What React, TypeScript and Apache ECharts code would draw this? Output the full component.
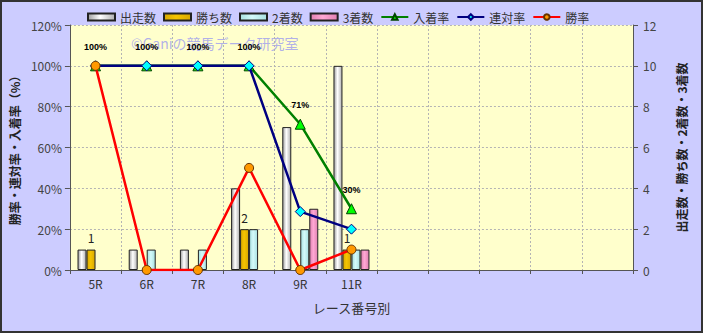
import React, { useEffect, useRef } from "react";
import * as echarts from "echarts";

const categories = ["5R", "6R", "7R", "8R", "9R", "11R", "", "", "", "", ""];
const starts = [1, 1, 1, 4, 7, 10];
const wins = [1, 0, 0, 2, 0, 1];
const seconds = [0, 1, 1, 2, 2, 1];
const thirds = [0, 0, 0, 0, 3, 1];
const placeRate = [100, 100, 100, 100, 71.4, 30];
const quinellaRate = [100, 100, 100, 100, 28.6, 20];
const winRate = [100, 0, 0, 50, 0, 10];
const rateTicks = [0, 20, 40, 60, 80, 100, 120];
const countTicks = [0, 2, 4, 6, 8, 10, 12];

const FONT = "'Noto Sans CJK JP', 'Noto Sans', sans-serif";

function grad(a: string, b: string, c: string) {
  return new echarts.graphic.LinearGradient(0, 0, 1, 0, [
    { offset: 0, color: a },
    { offset: 0.45, color: b },
    { offset: 1, color: c },
  ]);
}

// zero-height bars in the reference are invisible (no outline)
function barData(values: number[]) {
  return values.map((v) =>
    v === 0 ? { value: 0, itemStyle: { borderWidth: 0, opacity: 0 } } : v
  );
}

export default function App() {
  const ref = useRef<HTMLDivElement>(null);
  useEffect(() => {
    if (!ref.current) return;
    const chart = echarts.init(ref.current, null, { renderer: "svg" });
    const barBase = {
      type: "bar" as const,
      yAxisIndex: 1,
      barWidth: 9,
      barGap: "0%",
    };
    const gridLine = { color: "#B4B4B4", type: [2, 2] as number[], width: 1 };
    chart.setOption({
      animation: false,
      backgroundColor: "#CCCCFF",
      textStyle: { fontFamily: FONT },
      legend: {
        left: 82,
        top: 6,
        itemWidth: 27,
        itemHeight: 7,
        itemGap: 7,
        textStyle: { fontSize: 12, color: "#333", fontFamily: FONT },
        data: [
          { name: "出走数", icon: "rect" },
          { name: "勝ち数", icon: "rect" },
          { name: "2着数", icon: "rect" },
          { name: "3着数", icon: "rect" },
          "入着率",
          "連対率",
          "勝率",
        ],
      },
      grid: {
        left: 67,
        right: 70,
        top: 25,
        bottom: 63,
        show: true,
        backgroundColor: "#FFFFCC",
        borderWidth: 0,
      },
      graphic: [
        {
          type: "text",
          left: 131,
          top: 36,
          silent: true,
          z: 0,
          style: {
            text: "©Ganiの競馬データ研究室",
            fontSize: 14,
            fontFamily: FONT,
            fill: "rgba(110,110,255,0.55)",
          },
        },
        {
          type: "rect",
          shape: { x: 1, y: 1, width: 701, height: 331 },
          silent: true,
          style: { fill: "none", stroke: "#333", lineWidth: 2 },
        },
      ],
      xAxis: {
        type: "category",
        data: categories,
        name: "レース番号別",
        nameLocation: "middle",
        nameGap: 31,
        nameTextStyle: { fontSize: 13, color: "#333", fontFamily: FONT },
        axisLine: { lineStyle: { color: "#555", width: 1 } },
        axisTick: { show: true, length: 4, lineStyle: { color: "#555" } },
        axisLabel: { fontSize: 12, color: "#333", margin: 7 },
        splitLine: { show: true, lineStyle: gridLine },
      },
      yAxis: [
        {
          type: "value",
          min: rateTicks[0],
          max: rateTicks[rateTicks.length - 1],
          interval: 20,
          name: "勝率・連対率・入着率（%）",
          nameLocation: "middle",
          nameRotate: 90,
          nameGap: 45,
          nameTextStyle: {
            fontSize: 12,
            fontWeight: "bold",
            color: "#222",
            fontFamily: FONT,
          },
          axisLine: { show: true, lineStyle: { color: "#555" } },
          axisTick: { show: true, length: 5, lineStyle: { color: "#555" } },
          axisLabel: {
            fontSize: 12,
            color: "#444",
            margin: 8,
            formatter: (v: number) => `${v}%`,
          },
          splitLine: { show: true, lineStyle: gridLine },
        },
        {
          type: "value",
          min: countTicks[0],
          max: countTicks[countTicks.length - 1],
          interval: 2,
          position: "right",
          name: "出走数・勝ち数・2着数・3着数",
          nameLocation: "middle",
          nameRotate: 90,
          nameGap: 42,
          nameTextStyle: {
            fontSize: 12,
            fontWeight: "bold",
            color: "#222",
            fontFamily: FONT,
          },
          axisLine: { show: true, lineStyle: { color: "#555" } },
          axisTick: { show: true, length: 5, lineStyle: { color: "#555" } },
          axisLabel: { fontSize: 12, color: "#444", margin: 10 },
          splitLine: { show: false },
        },
      ],
      series: [
        {
          ...barBase,
          name: "出走数",
          data: barData(starts),
          itemStyle: {
            color: grad("#A0A0A0", "#FFFFFF", "#B0B0B0"),
            borderColor: "#222",
            borderWidth: 1,
          },
        },
        {
          ...barBase,
          name: "勝ち数",
          data: barData(wins),
          itemStyle: {
            color: grad("#D8A800", "#F5C400", "#D8A800"),
            borderColor: "#222",
            borderWidth: 1,
          },
          label: {
            show: true,
            position: "top",
            distance: 6,
            fontSize: 12,
            color: "#222",
            formatter: (p: any) => (p.value ? String(p.value) : ""),
          },
        },
        {
          ...barBase,
          name: "2着数",
          data: barData(seconds),
          itemStyle: {
            color: grad("#A8E0E0", "#D4FAFA", "#A8E0E0"),
            borderColor: "#222",
            borderWidth: 1,
          },
        },
        {
          ...barBase,
          name: "3着数",
          data: barData(thirds),
          itemStyle: {
            color: grad("#E080B0", "#FFA8D4", "#E080B0"),
            borderColor: "#222",
            borderWidth: 1,
          },
        },
        {
          type: "line",
          name: "入着率",
          yAxisIndex: 0,
          data: placeRate,
          symbol: "triangle",
          symbolSize: 10,
          lineStyle: { color: "#008000", width: 2.5 },
          itemStyle: { color: "#00FF00", borderColor: "#004400", borderWidth: 1 },
          label: {
            show: true,
            position: "top",
            distance: 9,
            fontSize: 9,
            fontWeight: "bold",
            color: "#000",
            fontFamily: "Arial, 'Liberation Sans', sans-serif",
            formatter: (p: any) => `${Math.round(p.value)}%`,
          },
          z: 3,
        },
        {
          type: "line",
          name: "連対率",
          yAxisIndex: 0,
          data: quinellaRate,
          symbol: "diamond",
          symbolSize: 10,
          lineStyle: { color: "#000080", width: 2.5 },
          itemStyle: { color: "#00FFFF", borderColor: "#000080", borderWidth: 1 },
          z: 4,
        },
        {
          type: "line",
          name: "勝率",
          yAxisIndex: 0,
          data: winRate,
          symbol: "circle",
          symbolSize: 9,
          lineStyle: { color: "#FF0000", width: 2.5 },
          itemStyle: { color: "#FF9900", borderColor: "#663300", borderWidth: 1 },
          z: 5,
        },
      ],
    });
    return () => chart.dispose();
  }, []);
  return (
    <div
      ref={ref}
      style={{ position: "fixed", left: 0, top: 0, width: 703, height: 333 }}
    />
  );
}
